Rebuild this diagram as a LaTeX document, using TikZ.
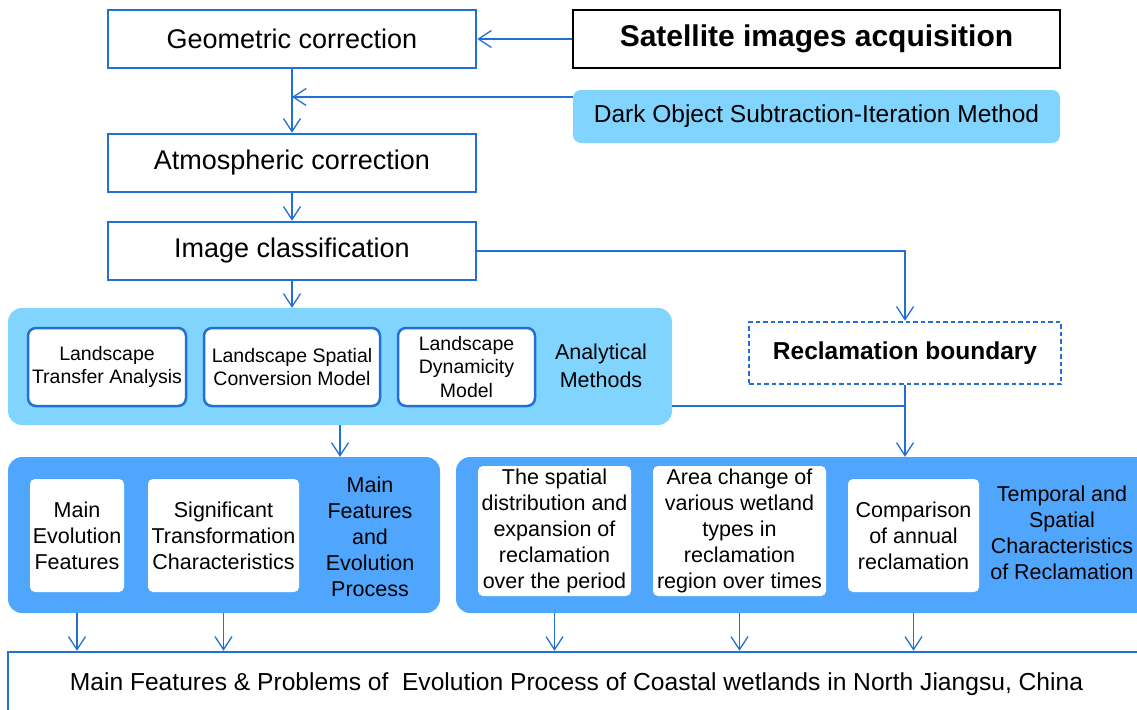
\documentclass[tikz,border=0pt]{standalone}
\usepackage{fontspec}
\setmainfont{Liberation Sans}
\usepackage{xcolor}
\usetikzlibrary{positioning, arrows.meta}

\definecolor{lineblue}{RGB}{34,112,214}
\definecolor{paleblue}{RGB}{128,212,254}
\definecolor{midblue}{RGB}{79,166,252}

\tikzset{
  flow/.style={draw=lineblue, line width=1.5pt, -{Straight Barb[length=13pt, width=17pt, line width=1.3pt]}},
  link/.style={draw=lineblue, line width=1.5pt},
  stepbox/.style={draw=lineblue, line width=2.5pt, fill=white, minimum width=368, minimum height=58, inner sep=0pt, font=\fontsize{27}{30}\selectfont},
  panel/.style={rounded corners=14pt, inner sep=0pt},
  methodbox/.style={draw=lineblue, line width=2.5pt, fill=white, rounded corners=8pt, minimum height=78, inner sep=0pt, align=center, font=\fontsize{19.5}{23.5}\selectfont},
  resultbox/.style={fill=white, rounded corners=5pt, inner sep=0pt, align=center, font=\fontsize{21.5}{26}\selectfont},
  paneltext/.style={align=center, inner sep=0pt, font=\fontsize{21.5}{26}\selectfont}
}

\begin{document}
\begin{tikzpicture}[x=1pt, y=-1pt]
  \useasboundingbox (0,0) rectangle (1137,709);

  % preprocessing chain
  \node[stepbox] (geo) at (292,39) {Geometric correction};
  \node[draw=black, line width=2.5pt, minimum width=487, minimum height=58, inner sep=0pt,
        font=\fontsize{30}{33}\selectfont\bfseries] (sat) at (816.5,39) {Satellite images acquisition};
  \node[fill=paleblue, rounded corners=8pt, minimum width=487, minimum height=53, inner sep=0pt,
        font=\fontsize{24.5}{28}\selectfont] (dos) at (816.5,116.5) {Dark Object Subtraction-Iteration Method};
  \node[stepbox] (atm) at (292,163) {Atmospheric correction};
  \node[stepbox] (cls) at (292,251) {Image classification};

  % analytical methods
  \node[panel, fill=paleblue, minimum width=664, minimum height=117] (ana) at (340,366.5) {};
  \node[methodbox, minimum width=158] (lta) at (107,367) {Landscape\\Transfer Analysis};
  \node[methodbox, minimum width=176] (lsc) at (292,367) {Landscape Spatial\\Conversion Model};
  \node[methodbox, minimum width=137] (ldm) at (466.5,367) {Landscape\\Dynamicity\\Model};
  \node[paneltext, font=\fontsize{21.5}{28}\selectfont] (anatxt) at (601,366) {Analytical\\Methods};

  \node[draw=lineblue, line width=2.5pt, dash pattern=on 4.5pt off 3pt, fill=white,
        minimum width=312, minimum height=62, inner sep=0pt,
        font=\fontsize{24.5}{28}\selectfont\bfseries] (rcb) at (905,353) {Reclamation boundary};

  % main features
  \node[panel, fill=midblue, minimum width=432, minimum height=156] (mfp) at (224,535) {};
  \node[resultbox, minimum width=94, minimum height=113] (mef) at (77,535.5) {Main\\Evolution\\Features};
  \node[resultbox, minimum width=151, minimum height=113] (stc) at (223.5,535.5) {Significant\\Transformation\\Characteristics};
  \node[paneltext] (mfptxt) at (370,537) {Main\\Features\\and\\Evolution\\Process};

  % reclamation characteristics
  \node[panel, fill=midblue, minimum width=694, minimum height=156] (tsc) at (803,535) {};
  \node[resultbox, minimum width=153, minimum height=130] (sdr) at (554.5,531) {The spatial\\distribution and\\expansion of\\reclamation\\over the period};
  \node[resultbox, minimum width=173, minimum height=130] (acw) at (739.5,531) {Area change of\\various wetland\\types in\\reclamation\\region over times};
  \node[resultbox, minimum width=131, minimum height=113] (car) at (913.5,535.5) {Comparison\\of annual\\reclamation};
  \node[paneltext] (tsctxt) at (1062,533) {Temporal and\\Spatial\\Characteristics\\of Reclamation};

  % final result
  \node[draw=lineblue, line width=2.5pt, fill=white, minimum width=1137, minimum height=64, inner sep=0pt,
        font=\fontsize{24.6}{28}\selectfont] (fin) at (576.5,684) {Main Features \& Problems of\ \ Evolution Process of Coastal wetlands in North Jiangsu, China};

  \coordinate (dosin) at (573,97);
  \coordinate (join) at (905,406);

  \draw[flow] (sat.west) -- (geo.east);
  \draw[flow] (dosin) -- (geo.south |- dosin);
  \draw[flow] (geo.south) -- (atm.north);
  \draw[flow] (atm.south) -- (cls.north);
  \draw[flow] (cls.south) -- (cls.south |- ana.north);
  \draw[flow] (cls.east) -| (rcb.north);
  \draw[flow] (ana.south) -- (ana.south |- mfp.north);
  \draw[link] (ana.east |- join) -- (join);
  \draw[flow] (rcb.south) -- (rcb.south |- tsc.north);
  \foreach \b/\c in {mef/mfp, stc/mfp, sdr/tsc, acw/tsc, car/tsc}
    \draw[flow] (\b |- \c.south) -- (\b |- fin.north);
\end{tikzpicture}
\end{document}
